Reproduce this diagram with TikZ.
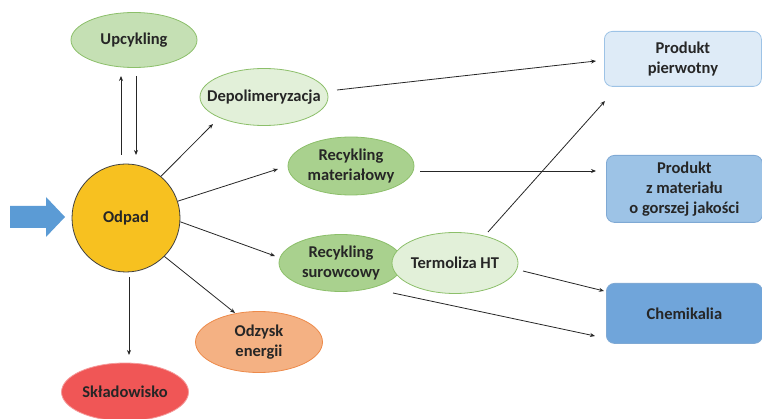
\documentclass[tikz,border=0pt]{standalone}
\usepackage{fontspec}
\setmainfont{Carlito}
\usetikzlibrary{arrows.meta,shapes.geometric}
\definecolor{gLight}{HTML}{E2F0D9}
\definecolor{gMid}{HTML}{C5E0B4}
\definecolor{gDark}{HTML}{A9D18E}
\definecolor{gLine}{HTML}{8CBF6A}
\definecolor{odpadC}{HTML}{F7C120}
\definecolor{orangeC}{HTML}{F4B183}
\definecolor{orangeL}{HTML}{ED8A4A}
\definecolor{redC}{HTML}{F05656}
\definecolor{redL}{HTML}{F59A9A}
\definecolor{bLight}{HTML}{DEEBF7}
\definecolor{bMid}{HTML}{9DC3E6}
\definecolor{bDark}{HTML}{70A5DA}
\definecolor{bLine}{HTML}{7FA9D4}
\definecolor{arrowC}{HTML}{5B9BD5}
\begin{document}
\begin{tikzpicture}[x=1pt,y=-1pt,
  every node/.style={font=\fontsize{16.5}{20}\selectfont\bfseries, text=black!85, align=center, inner sep=0pt},
  ell/.style={ellipse, draw=gLine, line width=0.8pt},
  box/.style={rectangle, rounded corners=8pt, line width=0.8pt, anchor=north west},
  conn/.style={-{Stealth[length=5pt,width=4pt]}, line width=0.8pt, black!85}]
\useasboundingbox (0,0) rectangle (762,419);
% shapes
\node[ell, fill=gMid, minimum width=126pt, minimum height=55pt] (up) at (134,40) {};
\node[ell, fill=gLight, minimum width=128pt, minimum height=57pt] (dep) at (264,97) {};
\node[ell, fill=gDark, minimum width=126pt, minimum height=58pt] (rm) at (351,166) {};
\node[ell, fill=gDark, minimum width=124pt, minimum height=57pt] (rs) at (341,263) {};
\node[ell, fill=gLight, minimum width=126pt, minimum height=61pt] (th) at (455,263) {};
\node[circle, draw=black!75, line width=0.8pt, fill=odpadC, minimum size=108pt] (odp) at (126,218) {};
\node[ell, draw=orangeL, fill=orangeC, minimum width=127pt, minimum height=61pt] (oe) at (259,342) {};
\node[ell, draw=redL, fill=redC, minimum width=127pt, minimum height=58pt] (sk) at (125,392) {};
\node[box, draw=bMid, fill=bLight, minimum width=157pt, minimum height=55pt] (pp) at (604,31) {};
\node[box, draw=bLine, fill=bMid, minimum width=156pt, minimum height=67pt] (pz) at (606,155) {};
\node[box, draw=bLine, fill=bDark, minimum width=156pt, minimum height=60pt] (ch) at (606,283) {};
% texts
\node (tup) at (up.center) {Upcykling};
\node (tdep) at (dep.center) {Depolimeryzacja};
\node (trm) at (rm.center) {Recykling\\materiałowy};
\node (trs) at (rs.center) {Recykling\\surowcowy};
\node (tth) at (th.center) {Termoliza HT};
\node (todp) at (odp.center) {Odpad};
\node (toe) at (oe.center) {Odzysk\\energii};
\node (tsk) at (sk.center) {Składowisko};
\node (tpp) at (pp.center) {Produkt\\pierwotny};
\node (tpz) at (pz.center) {Produkt\\z materiału\\o gorszej jakości};
\node (tch) at (ch.center) {Chemikalia};
% block arrow
\fill[arrowC] (10,206) -- (46,206) -- (46,197) -- (65,217) -- (46,237) -- (46,228) -- (10,228) -- cycle;
% connectors
\coordinate (u1) at (121,155); \coordinate (u2) at (121,76);
\coordinate (d1) at (136,76);  \coordinate (d2) at (136,155);
\draw[conn] (u1) -- (u2);
\draw[conn] (d1) -- (d2);
\draw[conn] (odp.50) -- (213,124);
\draw[conn] (odp.18) -- (278,169);
\draw[conn] (odp.-4) -- (275,256);
\draw[conn] (odp.-45) -- (235,313);
\coordinate (s1) at (129,277); \coordinate (s2) at (129,355);
\draw[conn] (s1) -- (s2);
\coordinate (dpe) at (337,90);
\draw[conn] (dpe) -- (596,61);
\coordinate (rme) at (420,171);
\draw[conn] (rme) -- (596,171);
\coordinate (the) at (488,232);
\draw[conn] (the) -- (605,101);
\coordinate (th2) at (523,271);
\draw[conn] (th2) -- (604,291);
\coordinate (rse) at (393,293);
\draw[conn] (rse) -- (595,336);
\end{tikzpicture}
\end{document}
